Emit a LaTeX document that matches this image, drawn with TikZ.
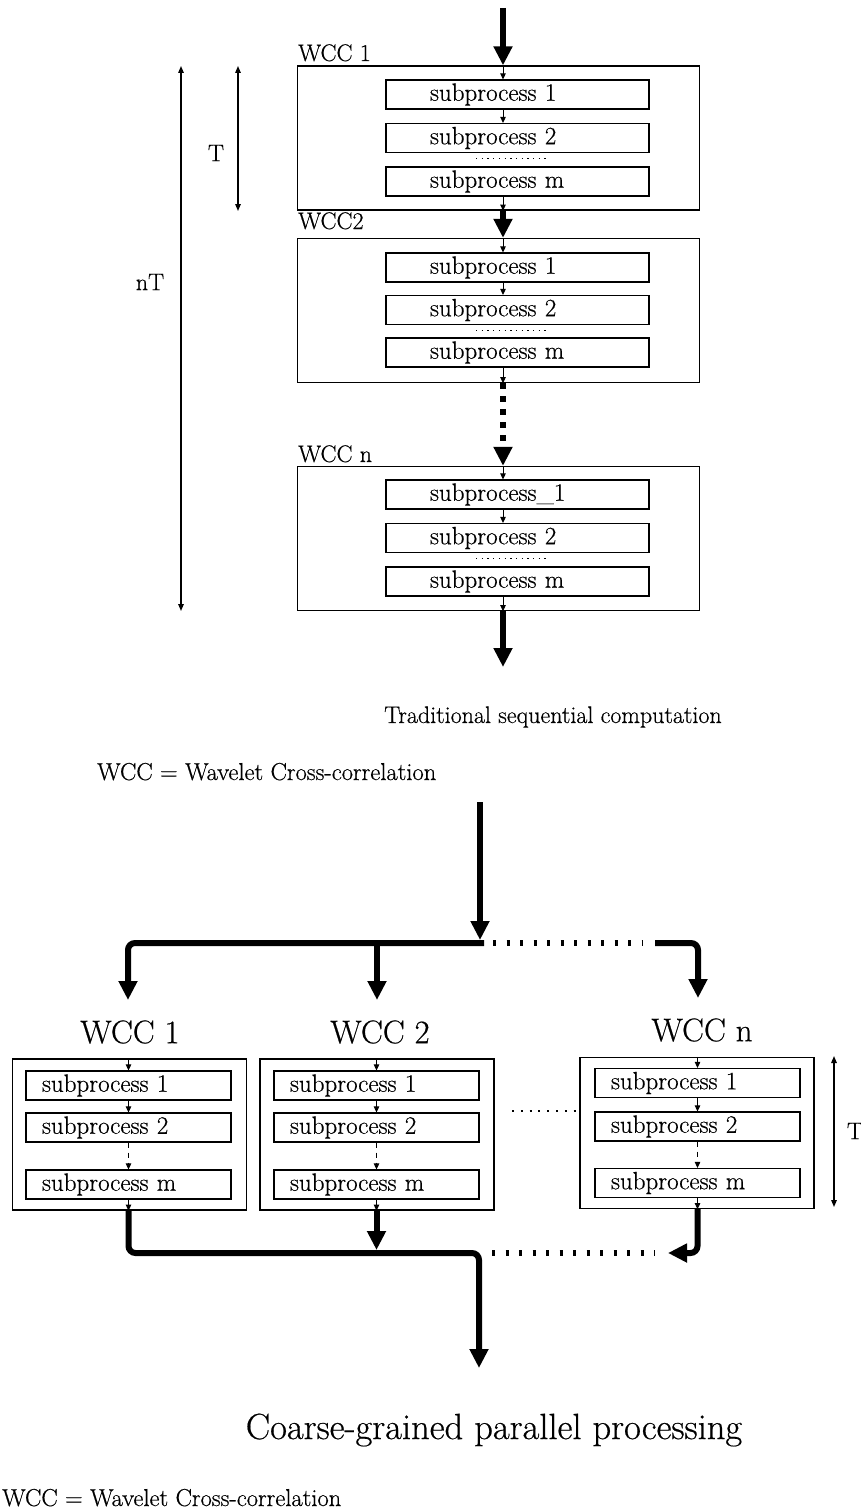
\documentclass[tikz,border=0pt]{standalone}
\usepackage{fontspec}
\setmainfont{Latin Modern Roman}[FakeBold=0.5]
\usetikzlibrary{arrows.meta}
\newcommand\spfont{\fontsize{25}{29}\selectfont}
\newcommand\lblfont{\fontsize{24}{28}\selectfont}
\newcommand\bigwccfont{\fontsize{32.8}{38}\selectfont}
\newcommand\notefont{\fontsize{24.5}{29}\selectfont}
\begin{document}
\begin{tikzpicture}[x=1pt,y=-1pt,
  thin box/.style={draw,line width=1.3pt,inner sep=0pt},
  wccA/.style={thin box,minimum width=402pt,minimum height=144pt},
  subA/.style={draw,line width=1.2pt,minimum height=29pt,inner ysep=0pt,inner xsep=44pt,text width=175pt,align=left,font=\spfont},
  wccB/.style={thin box,minimum width=234pt,minimum height=151pt},
  subB/.style={draw,line width=1.2pt,minimum height=29pt,inner ysep=0pt,inner xsep=16pt,text width=173pt,align=left,font=\spfont},
  flow/.style={line width=6pt,-{Triangle[length=19pt,width=18pt]}},
  small arrow/.style={line width=1pt,-{Triangle[length=6pt,width=5.5pt]}},
  dim/.style={line width=1.4pt,{Triangle[length=7pt,width=5.5pt]}-{Triangle[length=7pt,width=5.5pt]}},
  ellip/.style={line width=1.3pt,dash pattern=on 1.3pt off 4.4pt},
  bigdots/.style={line width=6pt,dash pattern=on 3pt off 10.5pt},
  lbl/.style={font=\lblfont,inner sep=0pt},
]
\useasboundingbox (0,0) rectangle (861,1512);

% ---------- sequential computation ----------
\coordinate (top) at (503,8);
\coordinate (bottom) at (503,667);

\node[wccA] (wcc1) at (498.5,138) {};
\node[subA] (s11) at (517.5,94.5) {subprocess 1};
\node[subA] (s12) at (517.5,138) {subprocess 2};
\node[subA] (s1m) at (517.5,181.5) {subprocess m};

\node[wccA] (wcc2) at (498.5,310.5) {};
\node[subA] (s21) at (517.5,267.5) {subprocess 1};
\node[subA] (s22) at (517.5,310) {subprocess 2};
\node[subA] (s2m) at (517.5,352.5) {subprocess m};

\node[wccA] (wccn) at (498.5,538.5) {};
\node[subA] (sn1) at (517.5,494.5) {subprocess\_1};
\node[subA] (sn2) at (517.5,538) {subprocess 2};
\node[subA] (snm) at (517.5,581.5) {subprocess m};

\node[lbl,anchor=base west] (l1) at (298,61) {WCC 1};
\node[lbl,anchor=base west] (l2) at (298,229) {WCC2};
\node[lbl,anchor=base west] (ln) at (298,462) {WCC n};

% main flow
\draw[flow] (top) -- (wcc1.north -| top);
\draw[flow] (wcc1.south -| top) -- (wcc2.north -| top);
\draw[flow,dash pattern=on 6pt off 7pt] (wcc2.south -| top) -- (wccn.north -| top);
\draw[flow] (wccn.south -| top) -- (bottom);

% steps inside each block
\foreach \w/\a/\b/\m in {wcc1/s11/s12/s1m, wcc2/s21/s22/s2m, wccn/sn1/sn2/snm}{
  \draw[small arrow] (\w.north -| top) -- (\a.north -| top);
  \draw[small arrow] (\a.south -| top) -- (\b.north -| top);
  \draw[small arrow] (\m.south -| top) -- (\w.south -| top);
  \draw[ellip] ([xshift=-41.5pt,yshift=-5.5pt]\b.south) -- ([xshift=32.5pt,yshift=-5.5pt]\b.south);
}

% time spans
\coordinate (nA) at (181,66);
\coordinate (nB) at (181,611);
\coordinate (tA) at (238,66);
\coordinate (tB) at (238,211);
\draw[dim] (nA) -- (nB);
\draw[dim] (tA) -- (tB);
\node[lbl] (tl) at (216,153) {T};
\node[lbl] (ntl) at (150,282) {nT};

\node[font=\fontsize{24}{28}\selectfont] (title1) at (553,717) {Traditional sequential computation};
\node[anchor=base west,inner sep=0pt,font=\notefont] (note1) at (97,780) {WCC = Wavelet Cross-correlation};

% ---------- parallel processing ----------
\coordinate (bin) at (480,802);
\coordinate (fork) at (480,943);
\coordinate (d1) at (128,1000);
\coordinate (d2) at (377,1000);
\coordinate (dn) at (698,998);
\coordinate (dotA) at (493,943);
\coordinate (dotB) at (642,943);
\coordinate (dotC) at (655,943);

\draw[flow] (bin) -- ([yshift=3pt]fork);
\draw[flow,rounded corners=7pt] ([xshift=4pt]fork) -| (d1);
\draw[flow] (d2 |- fork) -- (d2);
\draw[bigdots] (dotA) -- (dotB);
\draw[flow,rounded corners=7pt] (dotC) -| (dn);

\node[font=\bigwccfont] (t1) at (130,1032) {WCC 1};
\node[font=\bigwccfont] (t2) at (380,1032) {WCC 2};
\node[font=\bigwccfont] (tn) at (702,1030) {WCC n};

\node[wccB] (p1) at (129.5,1134.5) {};
\node[subB] (p11) at (128.5,1085.5) {subprocess 1};
\node[subB] (p12) at (128.5,1127.5) {subprocess 2};
\node[subB] (p1m) at (128.5,1184.5) {subprocess m};

\node[wccB] (p2) at (377,1134.5) {};
\node[subB] (p21) at (376.5,1085.5) {subprocess 1};
\node[subB] (p22) at (376.5,1127.5) {subprocess 2};
\node[subB] (p2m) at (376.5,1184.5) {subprocess m};

\node[wccB] (pn) at (697,1133) {};
\node[subB] (pn1) at (697.5,1083) {subprocess 1};
\node[subB] (pn2) at (697.5,1126.5) {subprocess 2};
\node[subB] (pnm) at (697.5,1183) {subprocess m};

\foreach \w/\a/\b/\m in {p1/p11/p12/p1m, p2/p21/p22/p2m, pn/pn1/pn2/pnm}{
  \draw[small arrow] (\w.north -| \a) -- (\a.north);
  \draw[small arrow] (\a.south) -- (\b.north);
  \draw[small arrow,dash pattern=on 5pt off 5pt] (\b.south) -- (\m.north);
  \draw[small arrow] (\m.south) -- (\w.south -| \m);
}

\coordinate (eA) at (512,1111);
\coordinate (eB) at (576,1111);
\draw[line width=2pt,dash pattern=on 2pt off 6.8pt] (eA) -- (eB);

% merging the results
\coordinate (merge) at (479,1253);
\coordinate (out) at (479,1368);
\coordinate (m2) at (376.5,1250);
\coordinate (jn) at (668,1253);
\coordinate (mdA) at (492,1253);
\coordinate (mdB) at (655,1253);
\draw[flow] (p1.south -| p1m) [rounded corners=7pt] |- (merge) [sharp corners] -- (out);
\draw[flow] (p2.south -| p2m) -- (m2);
\draw[flow,rounded corners=7pt] (pn.south -| pnm) |- (jn);
\draw[bigdots] (mdA) -- (mdB);

\coordinate (TA) at (834,1056);
\coordinate (TB) at (834,1207);
\draw[dim] (TA) -- (TB);
\node[lbl] (tT) at (855,1131) {T};

\node[font=\fontsize{36.5}{44}\selectfont] (title2) at (494,1430) {Coarse-grained parallel processing};
\node[anchor=base west,inner sep=0pt,font=\notefont] (note2) at (2,1506) {WCC = Wavelet Cross-correlation};
\end{tikzpicture}
\end{document}
